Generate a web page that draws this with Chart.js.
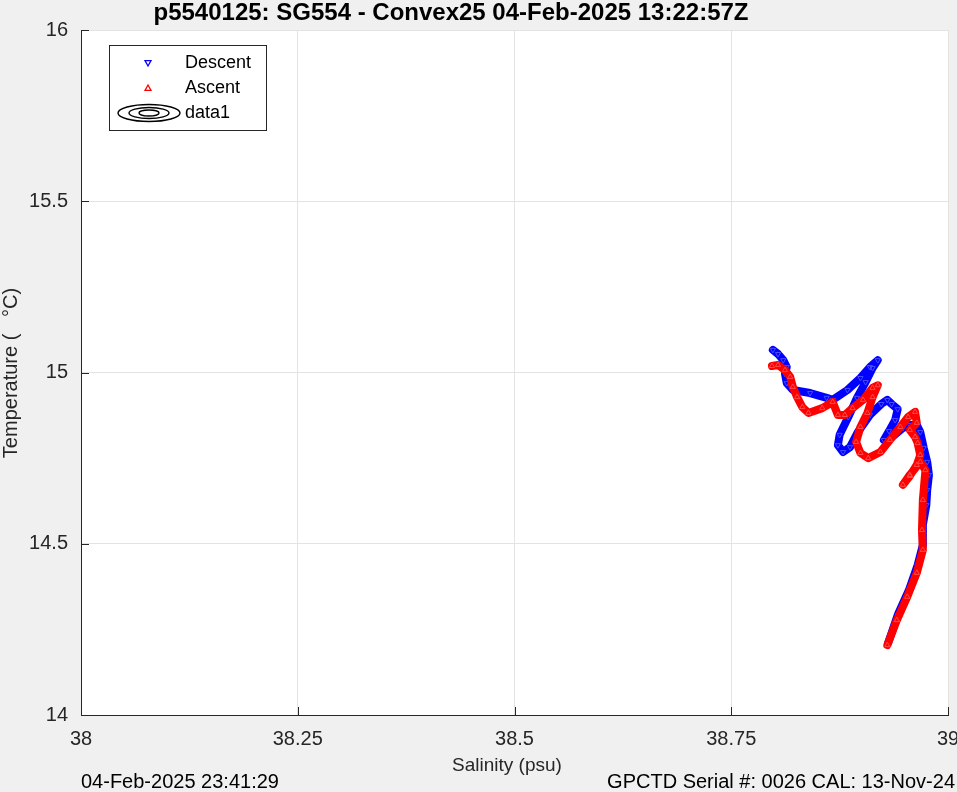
<!DOCTYPE html>
<html><head><meta charset="utf-8">
<script src="https://cdn.jsdelivr.net/npm/chart.js@4/dist/chart.umd.min.js"></script>
<style>html,body{margin:0;padding:0;background:#f0f0f0;overflow:hidden}</style>
</head><body>
<canvas id="c" width="957" height="792"></canvas>
<script>
// ---- data ----
const titleText = 'p5540125: SG554 - Convex25 04-Feb-2025 13:22:57Z';
const xLabel = 'Salinity (psu)';
const yLabel = 'Temperature (   \u00B0C)';
const footLeft = '04-Feb-2025 23:41:29';
const footRight = 'GPCTD Serial #: 0026 CAL: 13-Nov-24';
const legendLabels = ['Descent', 'Ascent', 'data1'];
const xTicks = [38, 38.25, 38.5, 38.75, 39];
const yTicks = [14, 14.5, 15, 15.5, 16];

const descentSal = [38.798, 38.804, 38.810, 38.814, 38.812, 38.814, 38.821, 38.841, 38.860, 38.867,
  38.884, 38.899, 38.910, 38.919, 38.913, 38.905, 38.895, 38.885, 38.875, 38.873,
  38.879, 38.887, 38.896, 38.910, 38.923, 38.930, 38.935, 38.942, 38.939, 38.932,
  38.926, 38.937, 38.948, 38.956, 38.964, 38.968, 38.972, 38.976, 38.978, 38.976,
  38.975, 38.971, 38.971, 38.965, 38.955, 38.942, 38.931];
const descentTemp = [15.066, 15.054, 15.036, 15.016, 14.996, 14.969, 14.949, 14.940, 14.926, 14.920,
  14.949, 14.984, 15.016, 15.036, 15.013, 14.972, 14.926, 14.870, 14.818, 14.788,
  14.768, 14.782, 14.826, 14.876, 14.908, 14.920, 14.908, 14.893, 14.861, 14.829,
  14.803, 14.815, 14.838, 14.847, 14.847, 14.826, 14.780, 14.739, 14.701, 14.657,
  14.613, 14.555, 14.496, 14.438, 14.365, 14.292, 14.210];

const ascentSal = [38.930, 38.941, 38.953, 38.964, 38.971, 38.970, 38.971, 38.974, 38.968, 38.956,
  38.948, 38.956, 38.964, 38.968, 38.965, 38.962, 38.956, 38.964, 38.962, 38.954,
  38.945, 38.933, 38.922, 38.908, 38.899, 38.894, 38.899, 38.907, 38.913, 38.919,
  38.913, 38.902, 38.890, 38.881, 38.873, 38.867, 38.855, 38.839, 38.832, 38.826,
  38.821, 38.818, 38.812, 38.804, 38.797];
const ascentTemp = [14.204, 14.277, 14.345, 14.415, 14.482, 14.540, 14.628, 14.715, 14.739, 14.701,
  14.672, 14.698, 14.730, 14.759, 14.794, 14.812, 14.832, 14.853, 14.885, 14.870,
  14.841, 14.803, 14.768, 14.750, 14.765, 14.797, 14.841, 14.882, 14.928, 14.963,
  14.955, 14.920, 14.896, 14.876, 14.876, 14.914, 14.896, 14.882, 14.899, 14.928,
  14.958, 14.987, 15.007, 15.022, 15.019];

const toPts = (xs, ys) => xs.map((x, i) => ({x: x, y: ys[i]}));
const AX = '#262626';
const FONT = "'Liberation Sans', Arial, Helvetica, sans-serif";

const bgPlugin = {
  id: 'bg',
  beforeDraw(chart) {
    const {ctx, chartArea: a} = chart;
    ctx.save();
    ctx.fillStyle = '#f0f0f0';
    ctx.fillRect(0, 0, chart.width, chart.height);
    ctx.fillStyle = '#ffffff';
    ctx.fillRect(a.left, a.top, a.right - a.left, a.bottom - a.top);
    ctx.restore();
  }
};

function triangle(ctx, x, y, r, down, color) {
  ctx.beginPath();
  if (down) {
    ctx.moveTo(x - r, y - r * 0.8); ctx.lineTo(x + r, y - r * 0.8); ctx.lineTo(x, y + r);
  } else {
    ctx.moveTo(x - r, y + r * 0.8); ctx.lineTo(x + r, y + r * 0.8); ctx.lineTo(x, y - r);
  }
  ctx.closePath();
  ctx.strokeStyle = color; ctx.lineWidth = 1.3; ctx.stroke();
}

const decoPlugin = {
  id: 'deco',
  afterDraw(chart) {
    const {ctx, chartArea: a, scales} = chart;
    ctx.save();
    // inner ticks
    ctx.strokeStyle = AX; ctx.lineWidth = 1;
    xTicks.forEach(v => {
      const px = Math.round(scales.x.getPixelForValue(v)) + 0.5;
      ctx.beginPath(); ctx.moveTo(px, a.bottom); ctx.lineTo(px, a.bottom - 8); ctx.stroke();
    });
    yTicks.forEach(v => {
      const py = Math.round(scales.y.getPixelForValue(v)) + 0.5;
      ctx.beginPath(); ctx.moveTo(a.left, py); ctx.lineTo(a.left + 8, py); ctx.stroke();
    });
    // title
    ctx.fillStyle = '#000';
    ctx.font = 'bold 24px ' + FONT;
    ctx.textAlign = 'center'; ctx.textBaseline = 'middle';
    ctx.fillText(titleText, 451, 13);
    // axis labels
    ctx.fillStyle = AX;
    ctx.font = '19px ' + FONT;
    ctx.fillText(xLabel, 507, 766);
    ctx.save();
    ctx.translate(11, 373); ctx.rotate(-Math.PI / 2);
    ctx.font = '20px ' + FONT;
    ctx.fillText(yLabel, 0, 0);
    ctx.restore();
    // footer texts
    ctx.fillStyle = '#000';
    ctx.font = '20px ' + FONT;
    ctx.textAlign = 'left';
    ctx.fillText(footLeft, 81, 782);
    ctx.textAlign = 'right';
    ctx.fillText(footRight, 955, 782);
    // legend
    ctx.fillStyle = '#fff';
    ctx.fillRect(109.5, 45.5, 157, 85);
    ctx.strokeStyle = AX; ctx.lineWidth = 1;
    ctx.strokeRect(109.5, 45.5, 157, 85);
    triangle(ctx, 148, 63, 3, true, '#0000ff');
    triangle(ctx, 148, 88, 3, false, '#ff0000');
    ctx.strokeStyle = '#000'; ctx.lineWidth = 1.4;
    [[31, 8.5], [20, 5.5], [10, 3]].forEach(([rx, ry]) => {
      ctx.beginPath(); ctx.ellipse(149, 113, rx, ry, 0, 0, Math.PI * 2); ctx.stroke();
    });
    ctx.fillStyle = '#000';
    ctx.font = '18px ' + FONT;
    ctx.textAlign = 'left'; ctx.textBaseline = 'middle';
    ctx.fillText(legendLabels[0], 185, 63);
    ctx.fillText(legendLabels[1], 185, 88);
    ctx.fillText(legendLabels[2], 185, 113);
    ctx.restore();
  }
};

new Chart(document.getElementById('c'), {
  type: 'scatter',
  data: {
    datasets: [
      {
        label: legendLabels[0],
        data: toPts(descentSal, descentTemp),
        showLine: true,
        borderColor: '#0000ff',
        backgroundColor: 'rgba(0,0,0,0)',
        borderWidth: 8,
        borderJoinStyle: 'round',
        borderCapStyle: 'round',
        pointStyle: 'triangle',
        rotation: 180,
        pointRadius: 3,
        pointBorderWidth: 1,
        pointBorderColor: '#4a4aff',
        order: 2
      },
      {
        label: legendLabels[1],
        data: toPts(ascentSal, ascentTemp),
        showLine: true,
        borderColor: '#ff0000',
        backgroundColor: 'rgba(0,0,0,0)',
        borderWidth: 8,
        borderJoinStyle: 'round',
        borderCapStyle: 'round',
        pointStyle: 'triangle',
        pointRadius: 3,
        pointBorderWidth: 1,
        pointBorderColor: '#ff4a4a',
        order: 1
      }
    ]
  },
  options: {
    responsive: false,
    animation: false,
    devicePixelRatio: 1,
    layout: {padding: {left: 0, right: 9, top: 30, bottom: 0}},
    plugins: {legend: {display: false}, tooltip: {enabled: false}, title: {display: false}},
    scales: {
      x: {
        type: 'linear', min: 38, max: 39,
        afterFit: s => { s.height = 77; s.paddingLeft = 0; s.paddingRight = 0; },
        afterBuildTicks: s => { s.ticks = xTicks.map(v => ({value: v})); },
        grid: {color: '#e3e3e3', drawTicks: false, lineWidth: 1},
        border: {color: AX, width: 1},
        ticks: {color: AX, font: {size: 20, family: FONT}, padding: 12, maxRotation: 0,
          callback: v => String(v)}
      },
      y: {
        type: 'linear', min: 14, max: 16,
        afterFit: s => { s.width = 81; s.paddingTop = 0; s.paddingBottom = 0; },
        afterBuildTicks: s => { s.ticks = yTicks.map(v => ({value: v})); },
        grid: {color: '#e3e3e3', drawTicks: false, lineWidth: 1},
        border: {color: AX, width: 1},
        ticks: {color: AX, font: {size: 20, family: FONT}, padding: 13,
          callback: v => String(v)}
      }
    }
  },
  plugins: [bgPlugin, decoPlugin]
});
</script>
</body></html>
